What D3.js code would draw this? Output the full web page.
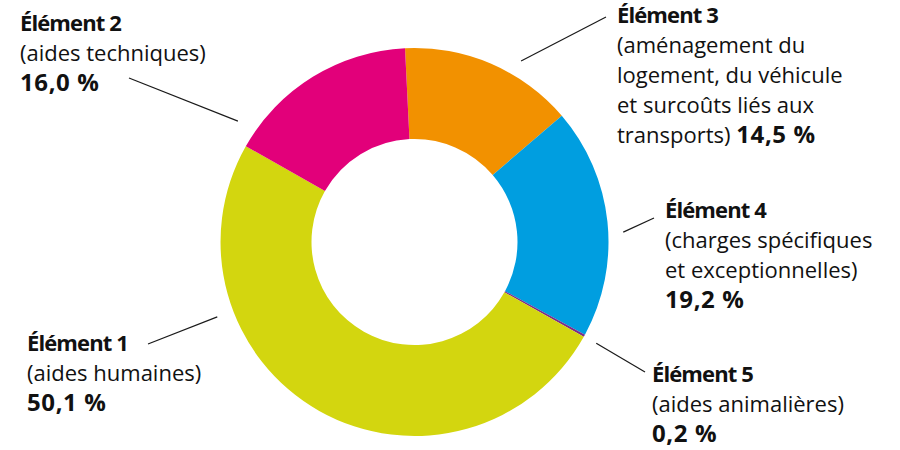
<!DOCTYPE html>
<html>
<head>
<meta charset="utf-8">
<script src="https://cdn.jsdelivr.net/npm/d3@7"></script>
<style>
  html, body { margin: 0; padding: 0; background: #ffffff; }
  svg { display: block; }
  text { font-family: "Open Sans", "DejaVu Sans", sans-serif; fill: #111; }
</style>
</head>
<body>
<svg id="chart" width="900" height="450"></svg>
<script>
// ---- data ----
const categories = ["Élément 3", "Élément 4", "Élément 5", "Élément 1", "Élément 2"];
const values = [14.5, 19.2, 0.2, 50.1, 16.0];
const valueLabels = ["14,5 %", "19,2 %", "0,2 %", "50,1 %", "16,0 %"];
const descriptions = [
  ["(aménagement du", "logement, du véhicule", "et surcoûts liés aux", "transports)"],
  ["(charges spécifiques", "et exceptionnelles)"],
  ["(aides animalières)"],
  ["(aides humaines)"],
  ["(aides techniques)"]
];
const colors = ["#F29100", "#009EE0", "#7B2D8A", "#D3D60F", "#E2007A"];

// ---- layout ----
const svg = d3.select("#chart");
const cx = 414.5, cy = 242, rOuter = 194, rInner = 103;
const startDeg = -2.8;
const toRad = d => d * Math.PI / 180;

const pie = d3.pie().sort(null).value(d => d)
  .startAngle(toRad(startDeg)).endAngle(toRad(startDeg + 360));
const arc = d3.arc().innerRadius(rInner).outerRadius(rOuter);

const g = svg.append("g").attr("transform", `translate(${cx},${cy})`);
g.selectAll("path").data(pie(values)).join("path")
  .attr("d", arc)
  .attr("fill", (d, i) => colors[i]);

// label layout: text anchor (x, first baseline), leader line (angle in deg at radius, outer end)
const labelLayout = [
  { x: 617, y: 23, leadAngle: 30.5, leadR: 210, end: [606, 17], inlineValue: true },
  { x: 665, y: 218, leadAngle: 87.3, leadR: 209, end: [654, 218] },
  { x: 652, y: 382, leadAngle: 119.1, leadR: 208, end: [645, 372] },
  { x: 27, y: 351, leadAngle: 249.2, leadR: 211, end: [148, 344] },
  { x: 20, y: 31, leadAngle: 304.4, leadR: 214, end: [129, 78] }
];
const lineH = 30;
const fontSize = 22;
const valueSize = 24;

categories.forEach((cat, i) => {
  const L = labelLayout[i];
  const a = toRad(L.leadAngle);
  const x1 = cx + L.leadR * Math.sin(a), y1 = cy - L.leadR * Math.cos(a);
  svg.append("line")
    .attr("x1", x1).attr("y1", y1)
    .attr("x2", L.end[0]).attr("y2", L.end[1])
    .attr("stroke", "#1a1a1a").attr("stroke-width", 1.2);

  const t = svg.append("text").attr("font-size", fontSize);
  t.append("tspan").attr("x", L.x).attr("y", L.y)
    .attr("font-weight", 700).attr("letter-spacing", -0.9).text(cat);
  const desc = descriptions[i];
  desc.forEach((line, j) => {
    t.append("tspan").attr("x", L.x).attr("y", L.y + lineH * (j + 1)).text(line);
    if (L.inlineValue && j === desc.length - 1) {
      t.append("tspan").text(" ");
      t.append("tspan").attr("font-weight", 700).attr("font-size", valueSize)
        .attr("letter-spacing", 0.6).text(valueLabels[i]);
    }
  });
  if (!L.inlineValue) {
    t.append("tspan").attr("x", L.x).attr("y", L.y + lineH * (desc.length + 1))
      .attr("font-weight", 700).attr("font-size", valueSize)
      .attr("letter-spacing", 0.6).text(valueLabels[i]);
  }
});
</script>
</body>
</html>
